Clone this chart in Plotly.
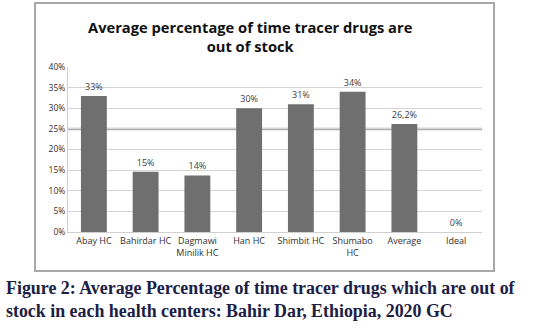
import plotly.graph_objects as go

categories = ["Abay HC", "Bahirdar HC", "Dagmawi<br>Minilik HC", "Han HC",
              "Shimbit HC", "Shumabo<br>HC", "Average", "Ideal"]
values = [33, 14.6, 13.7, 30, 31, 34, 26.2, 0]
labels = ["33%", "15%", "14%", "30%", "31%", "34%", "26,2%", "0%"]
tick_vals = [0, 5, 10, 15, 20, 25, 30, 35, 40]
tick_text = ["0%", "5%", "10%", "15%", "20%", "25%", "30%", "35%", "40%"]

W, H = 537, 331
L, R, T, B = 68, 55, 67, 99
pw = W - L - R
ph = H - T - B

def px_x(x):
    return (x - L) / pw

def px_y(y):
    return (H - B - y) / ph

fig = go.Figure(go.Bar(
    x=categories, y=values, text=labels, textposition="outside",
    textfont=dict(size=9, color="#404040", family="Open Sans"),
    marker=dict(color="#6f6f6f", line=dict(width=0)),
    width=0.5, cliponaxis=False,
))

fig.update_layout(
    width=W, height=H,
    margin=dict(l=L, r=R, t=T, b=B),
    paper_bgcolor="white", plot_bgcolor="white",
    showlegend=False,
    font=dict(family="Open Sans", color="#404040"),
    xaxis=dict(showgrid=False, showline=True, linecolor="#d0d0d0", linewidth=1,
               tickfont=dict(size=9, color="#303030"), ticks=""),
    yaxis=dict(range=[0, 40], tickvals=tick_vals, ticktext=tick_text,
               showgrid=True, gridcolor="#d4d4d4", gridwidth=1,
               showline=True, linecolor="#d0d0d0", zeroline=False,
               tickfont=dict(size=8.5, color="#303030"), ticks=""),
    shapes=[
        dict(type="rect", xref="paper", yref="paper",
             x0=px_x(35), x1=px_x(494), y0=px_y(271), y1=px_y(3),
             line=dict(color="#a8a8a8", width=2), layer="below"),
        dict(type="line", xref="paper", yref="y", x0=0, x1=1, y0=25, y1=25,
             line=dict(color="#b0b0b0", width=2.5), layer="below"),
    ],
    annotations=[
        dict(text="<b>Average percentage of time tracer drugs are<br>out of stock</b>",
             xref="paper", yref="paper", x=px_x(250), y=px_y(37),
             xanchor="center", yanchor="middle", showarrow=False,
             font=dict(size=14.7, color="#111111", family="Open Sans")),
        dict(text="<b>Figure 2: Average Percentage of time tracer drugs which are out of<br>stock in each health centers: Bahir Dar, Ethiopia, 2020 GC</b>",
             xref="paper", yref="paper", x=px_x(4), y=px_y(299),
             xanchor="left", yanchor="middle", align="left", showarrow=False,
             font=dict(size=17.9, color="#1c2045", family="Liberation Serif")),
    ],
)

fig.write_html("out.html", config={"displayModeBar": False},
               post_script="document.body.style.margin='0';document.body.style.overflow='hidden';")
